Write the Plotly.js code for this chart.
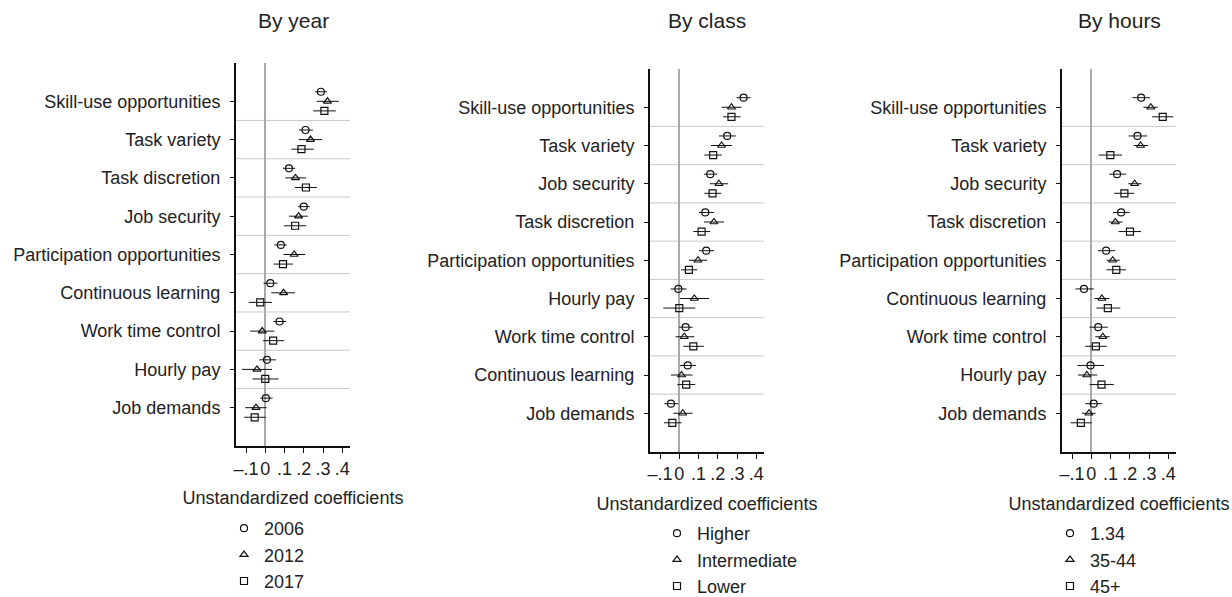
<!DOCTYPE html>
<html>
<head>
<meta charset="utf-8">
<script src="https://cdn.plot.ly/plotly-3.0.1.min.js"></script>
<style>
  html, body { margin: 0; padding: 0; background: #fff; }
  #chart { width: 1232px; height: 597px; }
</style>
</head>
<body>
<div id="chart"></div>
<script>
// ---------------- DATA ----------------
const panelTitles = ["By year", "By class", "By hours"];
const xTickVals = [-0.1, 0, 0.1, 0.2, 0.3, 0.4];
const xTickText = ["\u2013.1", "0", ".1", ".2", ".3", ".4"];
const xAxisTitle = "Unstandardized coefficients";

// Panel 1: by year
const yearCats = ["Skill-use opportunities", "Task variety", "Task discretion", "Job security",
  "Participation opportunities", "Continuous learning", "Work time control", "Hourly pay", "Job demands"];
const yearNames = ["2006", "2012", "2017"];
const y2006 = [0.289, 0.209, 0.123, 0.200, 0.081, 0.026, 0.074, 0.009, 0.003];
const y2006Lo = [0.259, 0.174, 0.092, 0.171, 0.048, -0.009, 0.043, -0.031, -0.026];
const y2006Hi = [0.320, 0.247, 0.155, 0.231, 0.112, 0.064, 0.109, 0.055, 0.038];
const y2012 = [0.323, 0.235, 0.157, 0.173, 0.150, 0.095, -0.016, -0.043, -0.048];
const y2012Lo = [0.268, 0.174, 0.104, 0.124, 0.095, 0.031, -0.078, -0.121, -0.104];
const y2012Hi = [0.382, 0.295, 0.212, 0.221, 0.207, 0.155, 0.047, 0.035, 0.007];
const y2017 = [0.307, 0.188, 0.211, 0.155, 0.092, -0.026, 0.041, 0.000, -0.055];
const y2017Lo = [0.249, 0.135, 0.154, 0.098, 0.043, -0.086, -0.012, -0.066, -0.109];
const y2017Hi = [0.366, 0.252, 0.268, 0.212, 0.143, 0.035, 0.098, 0.069, 0.003];

// Panel 2: by class
const classCats = ["Skill-use opportunities", "Task variety", "Job security", "Task discretion",
  "Participation opportunities", "Hourly pay", "Work time control", "Continuous learning", "Job demands"];
const classNames = ["Higher", "Intermediate", "Lower"];
const cHigher = [0.334, 0.249, 0.161, 0.135, 0.140, -0.005, 0.033, 0.044, -0.043];
const cHigherLo = [0.297, 0.206, 0.128, 0.102, 0.102, -0.045, 0.000, 0.004, -0.078];
const cHigherHi = [0.370, 0.294, 0.197, 0.180, 0.181, 0.038, 0.069, 0.087, -0.005];
const cInter = [0.271, 0.220, 0.206, 0.180, 0.097, 0.078, 0.026, 0.012, 0.018];
const cInterLo = [0.220, 0.164, 0.159, 0.128, 0.050, 0.004, -0.019, -0.043, -0.031];
const cInterHi = [0.323, 0.273, 0.254, 0.232, 0.144, 0.155, 0.078, 0.069, 0.069];
const cLower = [0.271, 0.176, 0.173, 0.116, 0.050, 0.000, 0.073, 0.036, -0.036];
const cLowerLo = [0.228, 0.130, 0.130, 0.073, 0.010, -0.083, 0.021, -0.010, -0.079];
const cLowerHi = [0.318, 0.221, 0.218, 0.161, 0.093, 0.083, 0.128, 0.083, 0.012];

// Panel 3: by hours
const hoursCats = ["Skill-use opportunities", "Task variety", "Job security", "Task discretion",
  "Participation opportunities", "Continuous learning", "Work time control", "Hourly pay", "Job demands"];
const hoursNames = ["1.34", "35-44", "45+"];
const h134 = [0.259, 0.240, 0.134, 0.155, 0.077, -0.038, 0.036, -0.004, 0.013];
const h134Lo = [0.214, 0.194, 0.093, 0.113, 0.034, -0.082, -0.009, -0.072, -0.031];
const h134Hi = [0.304, 0.290, 0.180, 0.199, 0.124, 0.013, 0.086, 0.067, 0.057];
const h3544 = [0.309, 0.256, 0.225, 0.125, 0.111, 0.055, 0.060, -0.023, -0.012];
const h3544Lo = [0.271, 0.220, 0.192, 0.091, 0.080, 0.017, 0.021, -0.069, -0.048];
const h3544Hi = [0.345, 0.295, 0.261, 0.163, 0.147, 0.094, 0.096, 0.031, 0.022];
const h45 = [0.371, 0.099, 0.172, 0.201, 0.130, 0.086, 0.024, 0.053, -0.054];
const h45Lo = [0.316, 0.039, 0.120, 0.142, 0.079, 0.027, -0.031, -0.009, -0.107];
const h45Hi = [0.426, 0.160, 0.223, 0.258, 0.180, 0.151, 0.080, 0.117, 0.003];

// ---------------- STYLE / LAYOUT ----------------
const W = 1232, H = 597;
const FONT = "Liberation Sans, Arial, Helvetica, sans-serif";
const TXT = "#222";
const symbols = ["circle-open", "triangle-up-open", "square-open"];
const offsets = [-0.25, 0, 0.25];

const panels = [
  { cats: yearCats, names: yearNames, vals: [y2006, y2012, y2017], lo: [y2006Lo, y2012Lo, y2017Lo], hi: [y2006Hi, y2012Hi, y2017Hi],
    px: [236, 350], py: [63, 446], legend: { x: 224, y: 510 } },
  { cats: classCats, names: classNames, vals: [cHigher, cInter, cLower], lo: [cHigherLo, cInterLo, cLowerLo], hi: [cHigherHi, cInterHi, cLowerHi],
    px: [650, 764], py: [69, 451.5], legend: { x: 657, y: 515 } },
  { cats: hoursCats, names: hoursNames, vals: [h134, h3544, h45], lo: [h134Lo, h3544Lo, h45Lo], hi: [h134Hi, h3544Hi, h45Hi],
    px: [1062, 1176], py: [69, 451.5], legend: { x: 1050, y: 515 } }
];

const traces = [];
const layout = {
  width: W, height: H,
  margin: { l: 0, r: 0, t: 0, b: 0, autoexpand: false },
  paper_bgcolor: "#fff", plot_bgcolor: "#fff",
  font: { family: FONT, size: 18, color: TXT },
  showlegend: true,
  shapes: [], annotations: []
};

panels.forEach((p, pi) => {
  const sfx = pi === 0 ? "" : String(pi + 1);
  const xa = "x" + sfx, ya = "y" + sfx;
  const legName = "legend" + sfx;
  const idx = p.cats.map((c, i) => i);

  p.names.forEach((nm, si) => {
    traces.push({
      type: "scatter", mode: "markers",
      name: nm,
      x: p.vals[si],
      y: idx.map(i => i + offsets[si]),
      xaxis: xa, yaxis: ya,
      legend: legName,
      marker: { symbol: symbols[si], size: 7, color: "#111", line: { width: 1.2, color: "#111" } },
      error_x: {
        type: "data", symmetric: false,
        array: p.vals[si].map((v, i) => p.hi[si][i] - v),
        arrayminus: p.vals[si].map((v, i) => v - p.lo[si][i]),
        color: "#111", thickness: 1, width: 0
      },
      hoverinfo: "x+name"
    });
  });

  layout["xaxis" + sfx] = {
    domain: [p.px[0] / W, p.px[1] / W],
    anchor: ya,
    automargin: false,
    range: [-0.152, 0.44],
    tickmode: "array", tickvals: xTickVals, ticktext: xTickText,
    tickangle: 0,
    ticks: "outside", ticklen: 5, tickwidth: 1, tickcolor: "#111",
    showline: true, linecolor: "#111", linewidth: 2,
    showgrid: false,
    zeroline: true, zerolinecolor: "#a9a9a9", zerolinewidth: 2,
    tickfont: { size: 18, color: TXT, family: FONT },
    title: { text: xAxisTitle, font: { size: 18, color: TXT, family: FONT }, standoff: 14 },
    fixedrange: true
  };
  layout["yaxis" + sfx] = {
    domain: [1 - p.py[1] / H, 1 - p.py[0] / H],
    anchor: xa,
    automargin: false,
    range: [p.cats.length, -1],
    tickmode: "array", tickvals: idx, ticktext: p.cats,
    ticks: "outside", ticklen: 4, tickwidth: 1, tickcolor: "#111",
    ticklabelstandoff: 6,
    showline: true, linecolor: "#111", linewidth: 2,
    showgrid: false, zeroline: false,
    tickfont: { size: 18, color: TXT, family: FONT },
    fixedrange: true
  };
  layout[legName] = {
    x: p.legend.x / W, y: 1 - p.legend.y / H,
    xanchor: "left", yanchor: "top",
    bgcolor: "rgba(0,0,0,0)", borderwidth: 0,
    font: { size: 18, color: TXT, family: FONT },
    traceorder: "normal"
  };

  for (let k = 0; k < p.cats.length - 1; k++) {
    layout.shapes.push({
      type: "line", layer: "below",
      xref: xa + " domain", yref: ya,
      x0: 0, x1: 1, y0: k + 0.5, y1: k + 0.5,
      line: { color: "#c8c8c8", width: 1 }
    });
  }

  layout.annotations.push({
    text: panelTitles[pi],
    xref: "paper", yref: "paper",
    x: ((p.px[0] + p.px[1]) / 2) / W, y: 1 - 20 / H,
    xanchor: "center", yanchor: "middle",
    showarrow: false,
    font: { size: 21, color: TXT, family: FONT }
  });
});

Plotly.newPlot("chart", traces, layout, { displayModeBar: false, staticPlot: true });
</script>
</body>
</html>
